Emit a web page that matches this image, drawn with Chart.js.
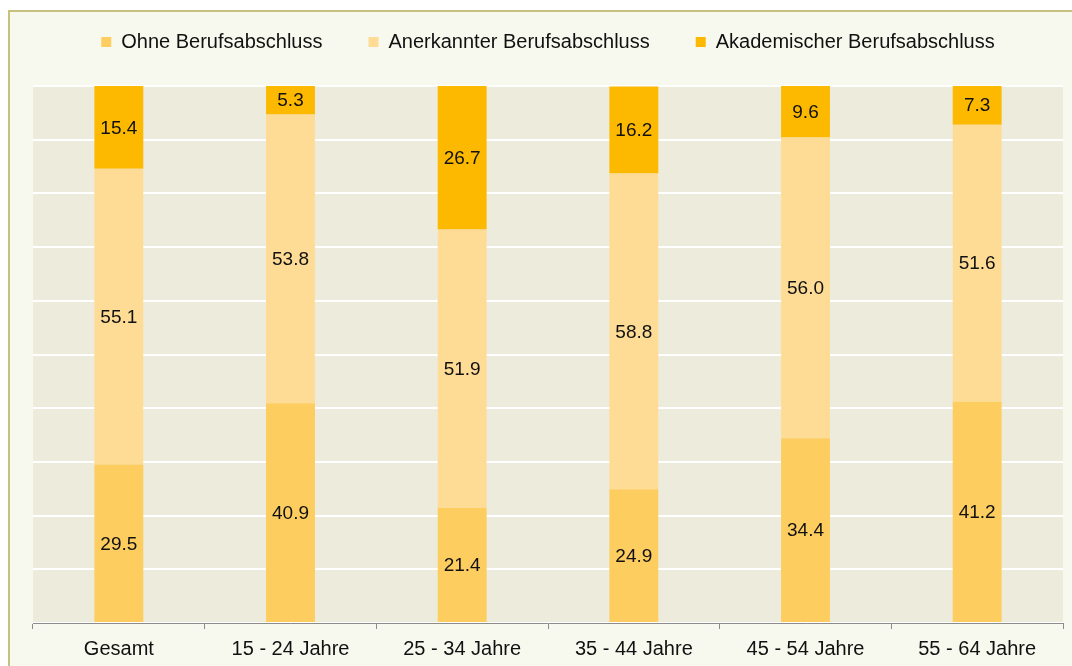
<!DOCTYPE html>
<html>
<head>
<meta charset="utf-8">
<script src="https://cdn.jsdelivr.net/npm/chart.js@4"></script>
<style>
  body { margin: 0; background: #ffffff; }
  #frame {
    position: absolute; left: 8px; top: 10px; width: 1080px; height: 670px;
    border: 2px solid #c8c17c; background: #f8f9ee;
  }
  #chart { position: absolute; left: 0; top: 0; }
</style>
</head>
<body>
<div id="frame"></div>
<canvas id="chart" width="1072" height="666"></canvas>
<script>
const categories = ['Gesamt', '15 - 24 Jahre', '25 - 34 Jahre', '35 - 44 Jahre', '45 - 54 Jahre', '55 - 64 Jahre'];
const ohne = [29.5, 40.9, 21.4, 24.9, 34.4, 41.2];
const anerkannt = [55.1, 53.8, 51.9, 58.8, 56.0, 51.6];
const akademisch = [15.4, 5.3, 26.7, 16.2, 9.6, 7.3];
const seriesNames = ['Ohne Berufsabschluss', 'Anerkannter Berufsabschluss', 'Akademischer Berufsabschluss'];

const FONT = "'Liberation Sans', Arial, sans-serif";

// beige plot background
const plotBg = {
  id: 'plotBg',
  beforeDraw(chart) {
    const a = chart.chartArea, ctx = chart.ctx;
    ctx.save();
    ctx.fillStyle = '#edebdc';
    ctx.fillRect(a.left, a.top, a.right - a.left, a.bottom - a.top);
    ctx.restore();
  }
};

// keep the legend from eating too much height (it needs big padding for item spacing)
const legendFit = {
  id: 'legendFit',
  beforeLayout(chart) {
    const lg = chart.legend;
    if (!lg || lg._patched) return;
    const fit = lg.fit;
    lg.fit = function () { fit.call(this); this.height = 100; };
    lg._patched = true;
  }
};

// value labels in the middle of each segment
const valueLabels = {
  id: 'valueLabels',
  afterDatasetsDraw(chart) {
    const ctx = chart.ctx;
    ctx.save();
    ctx.font = '19px ' + FONT;
    ctx.fillStyle = '#111';
    ctx.textAlign = 'center';
    ctx.textBaseline = 'middle';
    chart.data.datasets.forEach((ds, i) => {
      chart.getDatasetMeta(i).data.forEach((bar, j) => {
        const y = (bar.y + bar.base) / 2;
        ctx.fillText(ds.data[j].toFixed(1), bar.x, y + 1);
      });
    });
    ctx.restore();
  }
};

new Chart(document.getElementById('chart'), {
  type: 'bar',
  data: {
    labels: categories,
    datasets: [
      { label: seriesNames[0], data: ohne, backgroundColor: '#fdcd60', borderWidth: 0 },
      { label: seriesNames[1], data: anerkannt, backgroundColor: '#fedc95', borderWidth: 0 },
      { label: seriesNames[2], data: akademisch, backgroundColor: '#fcb900', borderWidth: 0 }
    ]
  },
  options: {
    responsive: false,
    animation: false,
    devicePixelRatio: 1,
    layout: { padding: { top: -14, left: 33, right: 9, bottom: -3 } },
    datasets: { bar: { barPercentage: 0.285, categoryPercentage: 1 } },
    plugins: {
      legend: {
        position: 'top',
        labels: {
          boxWidth: 10,
          boxHeight: 10,
          padding: 46,
          color: '#111',
          font: { family: FONT, size: 20 }
        }
      },
      tooltip: { enabled: false },
      title: { display: false }
    },
    scales: {
      x: {
        stacked: true,
        grid: { drawOnChartArea: false, drawTicks: true, tickLength: 6, color: '#8c8c8c' },
        border: { color: '#8c8c8c', width: 1 },
        ticks: { color: '#111', padding: 8, font: { family: FONT, size: 20 } }
      },
      y: {
        stacked: true,
        min: 0,
        max: 100,
        ticks: { display: false, stepSize: 10 },
        grid: { color: '#ffffff', lineWidth: 2, drawTicks: false },
        border: { display: false }
      }
    }
  },
  plugins: [plotBg, legendFit, valueLabels]
});
</script>
</body>
</html>
